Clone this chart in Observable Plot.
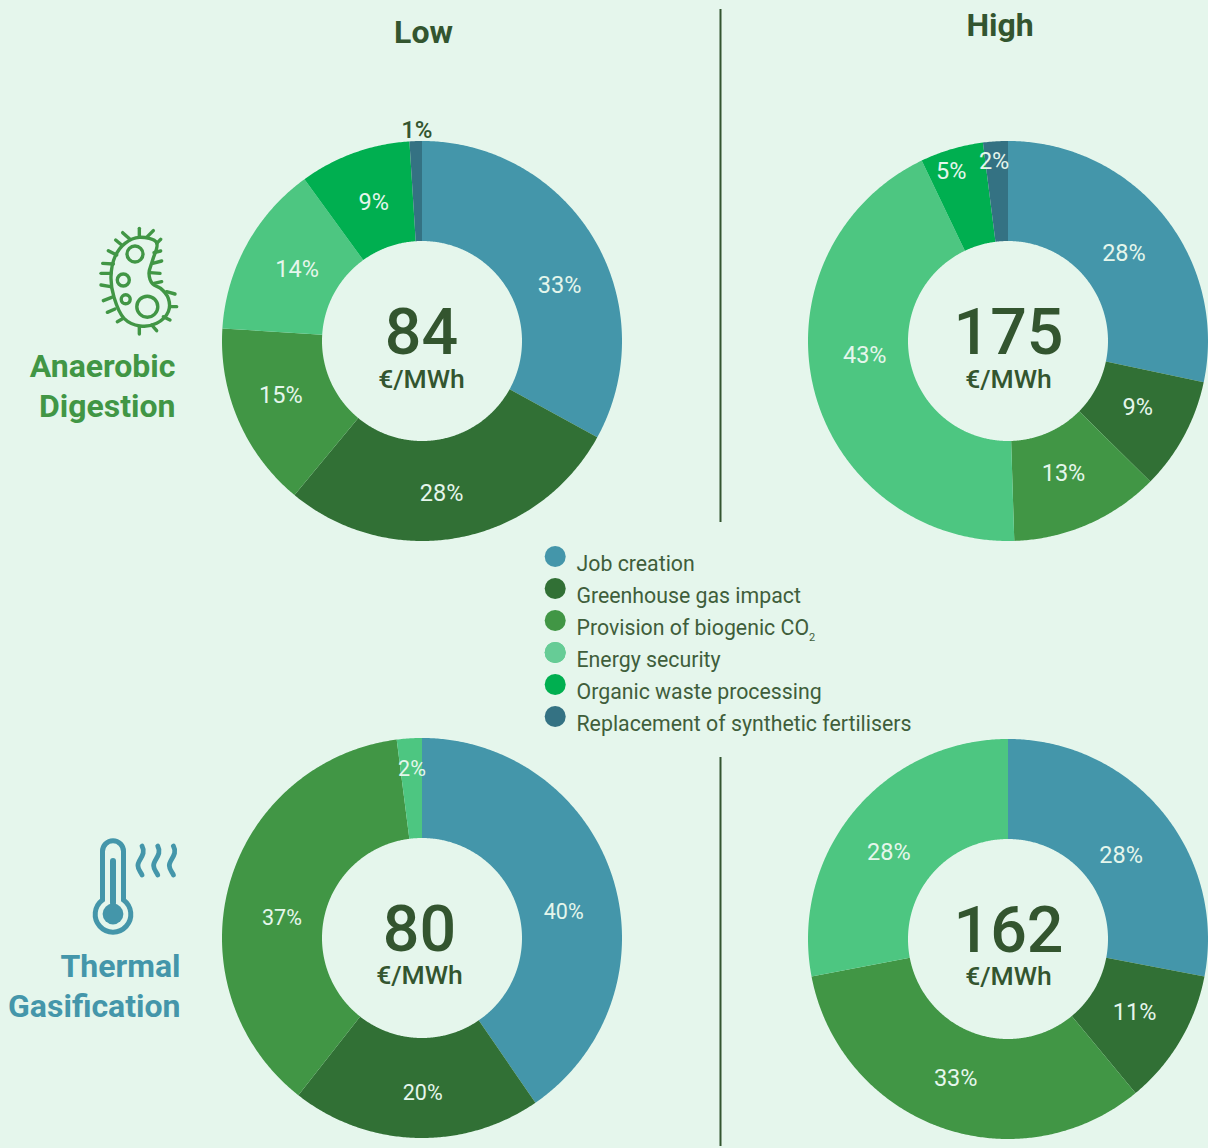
<!DOCTYPE html>
<html><head><meta charset="utf-8">
<style>html,body{margin:0;padding:0;background:#E5F6EC;overflow:hidden}svg{display:block}</style>
<script src="https://cdn.jsdelivr.net/npm/d3@7"></script>
<script src="https://cdn.jsdelivr.net/npm/@observablehq/plot@0.6"></script>
</head><body><div id="chart"></div>
<script>
// ---- data ----
const categories = ["Job creation","Greenhouse gas impact","Provision of biogenic CO₂","Energy security","Organic waste processing","Replacement of synthetic fertilisers"];
const adLow  = [33,28,15,14,9,1];
const adHigh = [28.3,9.1,12.1,43.4,5.1,2];       // slice shares as drawn
const adHighLabels = [28,9,13,43,5,2];           // percentages as printed
const tgLow  = [40,20,37,2,0,0];
const tgHigh = [28,11,33,28,0,0];
const costs  = [84,175,80,162];
const unit = "€/MWh";
const columnTitles = ["Low","High"];
const colors = ["#4496AA","#317035","#419645","#4DC681","#00AF50","#347283"];

// ---- layout ----
const W = 1208, H = 1148, R = 200, r0 = 100, rLabel = 150;
const ink = "#33552F", paper = "#E5F6EC", font = "Roboto";
const donuts = [
  {name:"adLow",  values:adLow,  printed:adLow,  cost:costs[0], cx:422,  cy:341, vx:421,  vy:333, ux:421,  uy:379, size:23.5,
   nudge:[[8,20],[-9,4.5],[-4,-6],[6,0],[2,2],[-1,-61]]},
  {name:"adHigh", values:adHigh, printed:adHighLabels, cost:costs[1], cx:1008, cy:341, vx:1008, vy:333, ux:1008, uy:379, size:23.5,
   nudge:[[-1,6.5],[-3,-5],[-5,-6],[2,-22],[-15,-26],[-5,-30]]},
  {name:"tgLow",  values:tgLow,  printed:tgLow,  cost:costs[2], cx:422,  cy:938, vx:419,  vy:930, ux:419,  uy:975, size:21.5,
   nudge:[[-2,18],[5,4.5],[4,19.5],[-1,-20]]},
  {name:"tgHigh", values:tgHigh, printed:tgHigh, cost:costs[3], cx:1008, cy:939, vx:1008, vy:931, ux:1008, uy:976, size:23.5,
   nudge:[[-3,12],[-3,-3],[-2,-2],[-4,9]]}
];

// Ring outlines and label anchors, derived from each donut's values with d3.pie
const ringPoints = [], labels = [];
for (const d of donuts) {
  const rows = categories.map((category,i)=>({category,value:d.values[i],printed:d.printed[i]})).filter(o=>o.value>0);
  d3.pie().sort(null).value(o=>o.value)(rows).forEach((a,i)=>{
    const key = d.name+"|"+a.data.category;
    const n = Math.ceil((a.endAngle-a.startAngle)/(Math.PI/360));
    for (let k=0;k<=n;k++){
      const t = a.startAngle+(a.endAngle-a.startAngle)*k/n, s=Math.sin(t), c=Math.cos(t);
      ringPoints.push({key,category:a.data.category,x1:d.cx+R*s,y1:d.cy-R*c,x2:d.cx+r0*s,y2:d.cy-r0*c});
    }
    const m=(a.startAngle+a.endAngle)/2;
    labels.push({text:a.data.printed+"%",
      x:d.cx+rLabel*Math.sin(m)+d.nudge[i][0], y:d.cy-rLabel*Math.cos(m)+d.nudge[i][1],
      outside:a.data.printed===1, size:d.size});
  });
}

const legendRows = categories.map((category,i)=>({category,y:556+i*32,ty:563.5+i*32}));

// Decorative icons (pictograms from the reference, not data)
const bugSpikes = [[418,82,418,55],[442,80,460,62],[470,100,482,88],[462,128,482,123],[458,160,485,153],[450,188,480,190],[462,220,485,215],[500,245,525,252],[510,290,530,290],[490,320,510,330],[455,345,470,362],[418,350,418,372],[370,325,352,335],[345,297,322,307],[335,262,310,272],[332,230,303,225],[332,190,303,190],[340,162,308,160],[350,135,325,122],[365,105,347,90],[390,88,368,68]];
const bugBody = [[418,82],[470,98],[458,150],[447,190],[458,222],[482,235],[505,265],[505,305],[470,340],[420,348],[372,325],[342,262],[333,200],[345,140],[375,100]];
const bugDots = [[135,254,8],[123.3,280,6],[125.7,299.3,4.5],[147.3,306.7,10.5]];
const icons = () => {
  const g = d3.create("svg:g");
  const bug = g.append("g").attr("fill","none").attr("stroke","#419645").attr("stroke-width",3.4).attr("stroke-linecap","round");
  const px = ([x,y])=>[x/3,y/3+210];
  bug.append("path").attr("d",d3.line().curve(d3.curveCatmullRomClosed)(bugBody.map(px)));
  for (const [a,b,c,e] of bugSpikes) bug.append("path").attr("d",d3.line()([px([a,b]),px([c,e])]));
  for (const [x,y,r] of bugDots) bug.append("circle").attr("cx",x).attr("cy",y).attr("r",r);
  const th = g.append("g").attr("fill","none").attr("stroke","#4496AA").attr("stroke-linecap","round");
  th.append("path").attr("stroke-width",5).attr("d","M102.5,900V851.3a10.5,10.5 0 0 1 21,0V900A17.8,17.8 0 1 1 102.5,900Z");
  th.append("path").attr("stroke-width",6).attr("d","M113,861V903");
  th.append("circle").attr("cx",113).attr("cy",914).attr("r",10.4).attr("fill","#4496AA").attr("stroke","none");
  for (const dx of [0,15.7,31.4]) th.append("path").attr("stroke-width",4.8)
    .attr("d",`M${142+dx},846C${147+dx},855 ${137+dx},860 ${138+dx},866C${138+dx},870 ${141+dx},872 ${142+dx},875`);
  return g.node();
};

const text = (data,o) => Plot.text(data,{fontFamily:font,lineAnchor:"middle",...o});

const chart = Plot.plot({
  width:W, height:H, margin:0,
  style:{background:"transparent",fontFamily:font},
  x:{domain:[0,W],range:[0,W],axis:null},
  y:{domain:[0,H],range:[0,H],axis:null},
  color:{domain:categories,range:colors},
  marks:[
    Plot.area(ringPoints,{x1:"x1",y1:"y1",x2:"x2",y2:"y2",z:"key",fill:"category"}),
    Plot.ruleX([720],{y1:9,y2:522,stroke:ink,strokeWidth:2}),
    Plot.ruleX([720],{y1:757,y2:1146,stroke:ink,strokeWidth:2}),
    text(labels.filter(d=>!d.outside),{x:"x",y:"y",text:"text",fontSize:d=>d.size,fill:paper,fontWeight:400}),
    text(labels.filter(d=>d.outside),{x:"x",y:"y",text:"text",fontSize:24,fill:ink,fontWeight:500}),
    text(donuts,{x:"vx",y:"vy",text:d=>String(d.cost),fontSize:64.5,fontWeight:500,fill:ink}),
    text(donuts,{x:"ux",y:"uy",text:()=>unit,fontSize:26.5,fontWeight:500,fill:ink}),
    text([columnTitles[0]],{x:423,y:32,text:d=>d,fontSize:32,fontWeight:700,fill:ink}),
    text([columnTitles[1]],{x:999.5,y:25,text:d=>d,fontSize:32,fontWeight:700,fill:ink}),
    text(["Anaerobic"],{x:175,y:366.5,text:d=>d,textAnchor:"end",fontSize:32,fontWeight:700,fill:"#419645"}),
    text(["Digestion"],{x:175,y:406.5,text:d=>d,textAnchor:"end",fontSize:32,fontWeight:700,fill:"#419645"}),
    text(["Thermal"],{x:180,y:966.5,text:d=>d,textAnchor:"end",fontSize:32,fontWeight:700,fill:"#4496AA"}),
    text(["Gasification"],{x:180,y:1006.5,text:d=>d,textAnchor:"end",fontSize:32,fontWeight:700,fill:"#4496AA"}),
    Plot.dot(legendRows,{x:()=>554.7,y:"y",r:10.5,fill:"category"}),
    Plot.dot(legendRows.filter(d=>d.category==="Energy security"),{x:()=>554.7,y:"y",r:10.5,fill:"#66CC96"}),
    text(legendRows,{x:()=>576,y:"ty",text:"category",textAnchor:"start",fontSize:21.3,fill:"#3F5E3B"}),
    icons
  ]
});
// Set the CO₂ index as a true subscript, as in the reference
d3.select(chart).selectAll("text tspan, text").filter(function(){
  return this.childElementCount===0 && this.textContent.endsWith("CO₂");
}).each(function(){
  const el = d3.select(this);
  el.text(this.textContent.replace("₂",""));
  el.append("tspan").attr("dy",6).attr("font-size",11).text("2");
});
document.getElementById("chart").append(chart);
</script></body></html>
